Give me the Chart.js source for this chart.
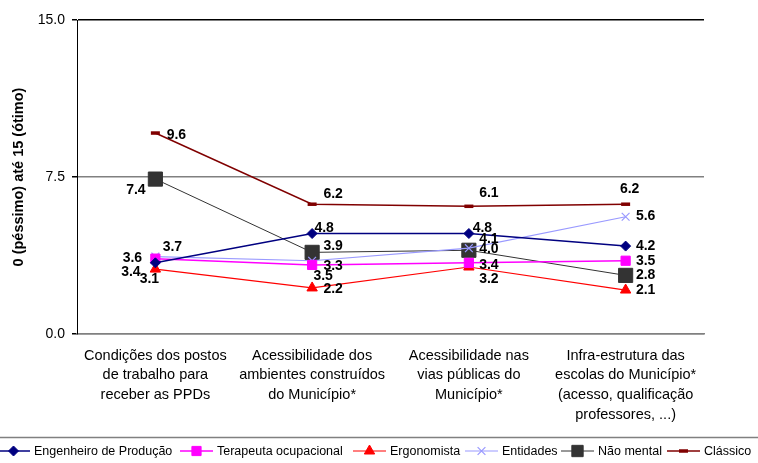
<!DOCTYPE html>
<html>
<head>
<meta charset="utf-8">
<script src="https://cdn.jsdelivr.net/npm/chart.js@4"></script>
<style>
html,body{margin:0;padding:0;background:#fff;}
#wrap{width:758px;height:463px;position:relative;}
</style>
</head>
<body>
<div id="wrap"><canvas id="c" width="758" height="463"></canvas></div>
<script>
// ---- data ----
const categories = [
  ["Condições dos postos", "de trabalho para", "receber as PPDs"],
  ["Acessibilidade dos", "ambientes construídos", "do Município*"],
  ["Acessibilidade nas", "vias públicas do", "Município*"],
  ["Infra-estrutura das", "escolas do Município*", "(acesso, qualificação", "professores, ...)"]
];
const seriesNames = ["Engenheiro de Produção", "Terapeuta ocupacional", "Ergonomista", "Entidades", "Não mental", "Clássico"];
const engenheiro = [3.4, 4.8, 4.8, 4.2];
const terapeuta  = [3.6, 3.3, 3.4, 3.5];
const ergonomista = [3.1, 2.2, 3.2, 2.1];
const entidades  = [3.7, 3.5, 4.1, 5.6];
const naoMental  = [7.4, 3.9, 4.0, 2.8];
const classico   = [9.6, 6.2, 6.1, 6.2];
const yTicks = [0, 7.5, 15];
const yTitle = "0 (péssimo) até 15 (ótimo)";

// ---- label placement (offset of label centre from its point) ----
const labelOffsets = [
  [[-24.5, 9], [12, -5], [13.5, -5.5], [20, 0]],
  [[-23, 0], [21, 1], [20, 2], [20, 0]],
  [[-6, 10], [21, 1], [20, 12], [20, 0]],
  [[17, -9], [11, 15], [20, -9], [20, -1]],
  [[-19.5, 11], [21, -6], [20, -1], [20, 0]],
  [[21, 2], [21, -10], [20, -13], [4, -15]]
];

const styles = [
  {color: '#000080', point: 'rectRot', radius: 5, lw: 1.5, pbw: 1},
  {color: '#FF00FF', point: 'rect', radius: 6.5, lw: 1.5, pbw: 1},
  {color: '#FF0000', point: 'triangle', radius: 6, lw: 1.2, pbw: 1},
  {color: '#9999FF', point: 'crossRot', radius: 5.5, lw: 1.2, pbw: 1.2},
  {color: '#333333', point: 'rect', radius: 10, lw: 1, pbw: 1},
  {color: '#800000', point: 'line', radius: 4.5, lw: 1.5, pbw: 3.5}
];
const values = [engenheiro, terapeuta, ergonomista, entidades, naoMental, classico];

const FONT = "'Liberation Sans', Arial, Helvetica, sans-serif";

const datasets = values.map((v, i) => ({
  label: seriesNames[i],
  data: v,
  borderColor: styles[i].color,
  backgroundColor: styles[i].color,
  borderWidth: styles[i].lw,
  pointStyle: styles[i].point,
  pointRadius: styles[i].radius,
  pointHoverRadius: styles[i].radius,
  pointBorderWidth: styles[i].pbw,
  pointBorderColor: styles[i].color,
  pointBackgroundColor: styles[i].color,
  tension: 0,
  clip: false
}));

const labelPlugin = {
  id: 'valueLabels',
  afterDatasetsDraw(chart) {
    const ctx = chart.ctx;
    ctx.save();
    ctx.font = "bold 14px " + FONT;
    ctx.fillStyle = '#000';
    ctx.textAlign = 'center';
    ctx.textBaseline = 'middle';
    chart.data.datasets.forEach((ds, i) => {
      const meta = chart.getDatasetMeta(i);
      meta.data.forEach((pt, j) => {
        const off = labelOffsets[i][j];
        ctx.fillText(ds.data[j].toFixed(1), pt.x + off[0], pt.y + off[1]);
      });
    });
    ctx.restore();
  }
};

const legendStarts = [-3, 180, 353, 465, 561, 667];
const legendPlugin = {
  id: 'customLegend',
  afterDraw(chart) {
    const ctx = chart.ctx;
    ctx.save();
    // top border of legend box
    ctx.strokeStyle = '#808080';
    ctx.lineWidth = 1.5;
    ctx.beginPath();
    ctx.moveTo(0, 437.5);
    ctx.lineTo(758, 437.5);
    ctx.stroke();
    const y = 451;
    ctx.font = "12.5px " + FONT;
    ctx.textBaseline = 'middle';
    ctx.textAlign = 'left';
    chart.data.datasets.forEach((ds, i) => {
      const x0 = legendStarts[i];
      const st = styles[i];
      ctx.strokeStyle = st.color;
      ctx.lineWidth = st.lw;
      ctx.beginPath();
      ctx.moveTo(x0, y);
      ctx.lineTo(x0 + 33, y);
      ctx.stroke();
      ctx.fillStyle = st.color;
      ctx.strokeStyle = st.color;
      ctx.lineWidth = st.pbw;
      const r = st.point === 'rect' && st.radius > 8 ? 8 : st.radius;
      Chart.helpers.drawPoint(ctx, {pointStyle: st.point, rotation: 0, borderWidth: st.pbw, radius: r}, x0 + 16.5, y);
      ctx.fillStyle = '#000';
      ctx.fillText(ds.label, x0 + 37, y + 0.5);
    });
    ctx.restore();
  }
};

new Chart(document.getElementById('c'), {
  type: 'line',
  data: { labels: categories, datasets },
  plugins: [labelPlugin, legendPlugin],
  options: {
    responsive: false,
    animation: false,
    devicePixelRatio: 1,
    layout: { padding: { left: 0, top: 20, right: 54, bottom: 0 } },
    plugins: { legend: { display: false }, tooltip: { enabled: false } },
    scales: {
      x: {
        type: 'category',
        offset: true,
        grid: { display: false, drawTicks: false },
        border: { display: true, color: '#808080', width: 1.5 },
        ticks: {
          color: '#000',
          font: { family: FONT, size: 14.5, lineHeight: 1.35 },
          padding: 12,
          maxRotation: 0,
          autoSkip: false
        },
        afterFit(scale) { scale.height = 129; }
      },
      y: {
        min: 0, max: 15,
        afterBuildTicks(scale) { scale.ticks = yTicks.map(v => ({ value: v })); },
        grid: {
          drawTicks: true,
          tickLength: 5,
          tickColor: '#000',
          lineWidth: 1.5,
          color(ctx) {
            const v = ctx.tick ? ctx.tick.value : null;
            if (v === 15) return '#000';
            if (v === 7.5) return '#808080';
            return '#808080';
          }
        },
        border: { display: true, color: '#000', width: 1 },
        ticks: {
          color: '#000',
          font: { family: FONT, size: 14 },
          padding: 7,
          callback(v) { return Number(v).toFixed(1); }
        },
        title: {
          display: true,
          text: yTitle,
          color: '#000',
          font: { family: FONT, size: 14.5, weight: 'bold' },
          padding: { top: 10, bottom: 0 }
        },
        afterFit(scale) { scale.width = 77; }
      }
    }
  }
});
</script>
</body>
</html>
